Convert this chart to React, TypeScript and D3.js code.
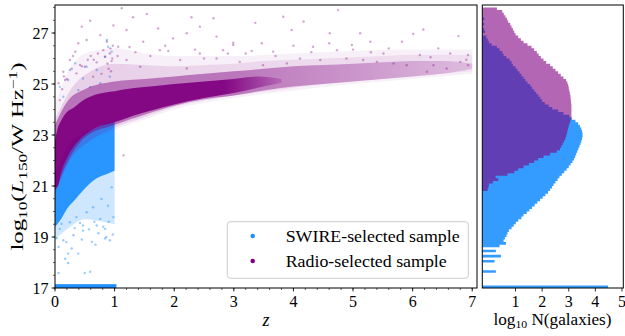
import React from 'react';
import * as d3 from 'd3';

const W = 625;
const H = 336;
const MAIN = { l: 55, r: 477, t: 5, b: 288 };
const HIST = { l: 482.3, r: 623.3, t: 5, b: 288 };

const Z_DOMAIN = [0, 7.08];
const L_DOMAIN = [17, 28.1];
const N_DOMAIN = [-0.25, 5.05];

const X_TICKS = [0, 1, 2, 3, 4, 5, 6, 7];
const Y_TICKS = [17, 19, 21, 23, 25, 27];
const N_TICKS = [1, 2, 3, 4, 5];

// ---- Radio-selected sample: density layers (z, lower L, upper L)
const RADIO_OUTER_Z = [0, 0.2, 0.5, 1.0, 1.5, 2.0, 3.0, 4.0, 5.0, 6.0, 7.0];
const RADIO_OUTER_LO = [20.6, 21.8, 22.6, 23.2, 23.6, 24.0, 24.45, 24.75, 25.0, 25.2, 25.4];
const RADIO_OUTER_HI = [24.2, 25.4, 26.2, 26.4, 26.2, 26.1, 26.1, 26.2, 26.3, 26.35, 26.35];

const RADIO_HALO_Z = [0, 0.3, 0.6, 1.0, 1.5, 2.0, 2.5, 3.0, 3.5, 4.0, 4.5, 5.0, 5.5, 6.0, 6.5, 7.0];
const RADIO_HALO_LO = [20.7, 22.2, 22.8, 23.3, 23.7, 24.1, 24.35, 24.55, 24.7, 24.85, 25.0, 25.1, 25.2, 25.3, 25.4, 25.5];
const RADIO_HALO_HI = [23.6, 24.9, 25.5, 25.8, 25.75, 25.7, 25.75, 25.8, 25.9, 25.95, 26.0, 26.05, 26.1, 26.15, 26.15, 26.15];

const RADIO_MID_Z = [0, 0.2, 0.5, 1.0, 1.5, 2.0, 2.5, 3.0, 3.5, 4.0, 4.5, 5.0, 5.5, 6.0, 6.5, 7.0];
const RADIO_MID_LO = [20.8, 21.9, 22.9, 23.4, 23.8, 24.15, 24.4, 24.55, 24.75, 24.9, 25.0, 25.1, 25.2, 25.3, 25.4, 25.6];
const RADIO_MID_HI = [23.4, 24.3, 24.8, 25.1, 25.2, 25.3, 25.4, 25.5, 25.6, 25.7, 25.75, 25.8, 25.85, 25.9, 25.9, 25.8];

const RADIO_CORE_Z = [0, 0.05, 0.1, 0.2, 0.3, 0.5, 0.7, 1.0, 1.3, 1.6, 2.0, 2.5, 3.0, 3.4, 3.8];
const RADIO_CORE_LO = [20.9, 21.0, 21.5, 22.1, 22.5, 23.0, 23.3, 23.5, 23.75, 23.95, 24.2, 24.45, 24.65, 24.85, 25.05];
const RADIO_CORE_HI = [22.8, 23.3, 23.55, 23.9, 24.05, 24.4, 24.6, 24.72, 24.83, 24.9, 25.0, 25.1, 25.2, 25.3, 25.2];

// sparse radio sources [z, L]
const RADIO_SPARSE_Z = [1.12, 1.54, 1.31, 0.59, 2.29, 2.66, 0.98, 2.43, 1.73, 1.2, 0.45, 0.76, 2.21, 1.98, 2.71, 1.48, 0.39, 1.06, 2.99, 1.76, 2.43, 0.25, 1.2, 2.1, 2.71, 0.14, 1.43, 2.21, 0.06, 0.08, 0.17, 0.34, 0.53, 0.81, 0.87, 0.84, 0.5, 0.36, 0.64, 1.15,
  4.75, 3.83, 3.36, 4.17, 6.18, 6.01, 3.97, 4.61, 5.12, 6.77, 5.29, 5.82, 2.99, 3.47, 4.33, 4.98, 6.43, 5.51, 2.82, 3.66, 4.73, 6.12, 6.63, 6.93, 6.93, 6.8, 6.57, 6.35, 6.24, 5.9, 5.68, 5.4, 5.17, 4.89, 4.45, 4.11, 3.89, 3.49, 3.1,
  0.92, 0.95, 0.9, 0.97, 0.6, 0.7, 0.3, 0.42, 0.2, 0.12, 0.65, 0.78, 1.6, 1.9, 2.5, 3.2, 3.7, 4.3, 5.0, 5.6, 6.3, 6.9, 4.0, 4.6, 5.3,
  0.93, 0.96, 0.88, 0.94, 0.55, 0.45, 0.28, 0.15, 0.72, 1.35, 1.85, 2.35, 2.9, 3.3, 1.05, 1.25];
const RADIO_SPARSE_L = [27.97, 27.75, 27.62, 27.48, 27.62, 27.58, 27.3, 27.25, 27.18, 27.12, 27.25, 26.92, 26.99, 26.79, 26.86, 26.66, 26.6, 26.46, 26.53, 26.33, 26.2, 25.94, 25.94, 25.94, 26.0, 25.48, 25.68, 25.61, 25.03, 24.37, 25.16, 26.27, 26.73, 26.33, 26.66, 26.07, 25.68, 25.42, 25.29, 22.2,
  27.9, 27.64, 27.4, 27.45, 27.14, 26.96, 27.12, 26.99, 26.99, 26.88, 26.66, 26.66, 26.62, 26.6, 26.46, 26.53, 26.4, 26.2, 26.33, 26.27, 26.33, 26.14, 26.2, 26.14, 25.74, 25.87, 25.61, 25.74, 25.48, 25.74, 25.81, 25.87, 25.94, 26.0, 25.94, 26.0, 25.81, 25.74, 25.87,
  26.2, 25.9, 25.6, 26.5, 26.1, 25.85, 26.1, 25.75, 25.2, 24.8, 25.95, 25.4, 26.1, 26.3, 26.0, 26.2, 26.1, 26.25, 26.35, 26.4, 26.05, 25.95, 26.5, 26.6, 26.25,
  26.4, 26.0, 25.8, 25.5, 25.95, 25.7, 25.6, 25.3, 26.2, 26.25, 26.5, 26.35, 26.2, 26.3, 26.1, 26.45];

// ---- SWIRE-selected sample: density layers
const SWIRE_HALO_Z = [0, 0.2, 0.5, 0.8, 1.0];
const SWIRE_HALO_LO = [18.9, 19.3, 19.7, 19.6, 19.5];
const SWIRE_HALO_HI = [19.5, 20.2, 21.0, 21.45, 21.6];

const SWIRE_CORE_Z = [0, 0.1, 0.2, 0.35, 0.5, 0.7, 0.9, 1.0];
const SWIRE_CORE_LO = [19.4, 19.7, 20.1, 20.5, 20.9, 21.3, 21.5, 21.6];
const SWIRE_CORE_HI = [21.5, 22.0, 22.5, 22.9, 23.1, 23.3, 23.5, 23.55];

const SWIRE_FLOOR_Z = [0, 1.03];
const SWIRE_FLOOR_L = [17, 17.15];

const SWIRE_SPARSE_Z = [0.08, 0.14, 0.06, 0.22, 0.17, 0.22, 0.06, 0.5, 0.59, 0.39, 0.47, 0.7, 0.84, 0.92, 0.84, 0.62, 0.31, 0.47, 0.76, 0.98, 0.25, 0.11, 0.64, 0.89, 0.78, 0.95, 0.53, 0.36,
  0.25, 0.34, 0.47, 0.59, 0.7, 0.84, 0.89, 0.95, 0.08, 0.14, 0.39, 0.53, 0.76, 0.92, 0.87, 0.22,
  0.42, 0.57, 0.66, 0.73, 0.81, 0.9, 0.97, 0.45, 0.68, 0.86, 0.33, 0.03, 0.19, 0.28];
const SWIRE_SPARSE_L = [19.32, 18.87, 18.61, 18.35, 18.15, 17.98, 17.59, 17.59, 17.64, 18.35, 19.25, 19.45, 19.32, 18.87, 18.94, 18.81, 19.07, 19.45, 19.71, 19.78, 19.58, 19.52, 20.17, 20.23, 20.49, 20.95, 19.97, 19.78,
  25.55, 25.81, 25.22, 24.89, 25.55, 26.07, 26.46, 26.27, 24.89, 24.5, 24.76, 25.68, 25.03, 25.29, 26.73, 25.16,
  19.55, 19.3, 19.6, 19.15, 19.4, 19.6, 19.1, 18.9, 18.7, 19.0, 19.35, 18.95, 18.8, 18.55];

// ---- Histograms: log10 N per 0.1-dex bin of L, starting at L = 17.0
const HIST_L0 = 17.0;
const HIST_BW = 0.1;
const SWIRE_HIST = [
  4.48, null, null, null, null, null, 0.26, null, null, null,
  0.21, null, 0.45, null, 0.26, null, 0.4, 0.64, 0.55, 0.6,
  0.66, 0.7, 0.75, 0.85, 0.93, 1.01, 1.1, 1.22, 1.3, 1.42,
  1.52, 1.62, 1.72, 1.82, 1.92, 2.02, 2.12, 2.22, 2.3, 2.37,
  2.43, 2.5, 2.58, 2.65, 2.74, 2.83, 2.92, 3.0, 3.07, 3.14,
  3.2, 3.24, 3.28, 3.32, 3.36, 3.4, 3.44, 3.47, 3.5, 3.52,
  3.52, 3.5, 3.47, 3.42, 3.35, 3.25, 3.12, 3.02, 2.8, 2.6,
  2.38, 2.25, 2.1, 2.0, 1.93, 1.86, 1.78, 1.7, 1.62, 1.55,
  1.45, 1.37, 1.3, 1.22, 1.15, 1.07, 1.0, 0.9, 0.85, 0.78,
  0.65, 0.55, 0.5, 0.4, 0.3, 0.1, 0.0, -0.05, -0.1, null,
  -0.15, -0.18, null, -0.18, null, -0.17, null, null, null, null,
];
const RADIO_HIST = [
  null, null, null, null, null, null, null, null, null, null,
  null, null, null, null, null, null, null, null, null, null,
  null, null, null, null, null, null, null, null, null, null,
  null, null, null, null, null, null, null, null, -0.05, -0.02,
  0.0, 0.15, 0.35, 0.25, 0.7, 0.95, 1.1, 1.3, 1.5, 1.7,
  1.85, 2.05, 2.3, 2.55, 2.67, 2.72, 2.77, 2.82, 2.87, 2.9,
  2.93, 2.95, 2.97, 3.0, 3.03, 3.06, 3.08, 3.1, 3.1, 3.1,
  3.1, 3.1, 3.09, 3.08, 3.07, 3.06, 3.04, 3.02, 3.0, 2.98,
  2.95, 2.9, 2.8, 2.7, 2.6, 2.5, 2.4, 2.3, 2.15, 2.05,
  1.95, 1.87, 1.8, 1.7, 1.6, 1.45, 1.3, 1.2, 1.1, 1.0,
  0.95, 0.9, 0.85, 0.8, 0.72, 0.68, 0.62, 0.56, 0.5, 0.3,
];

const LEGEND_LABELS = ['SWIRE-selected sample', 'Radio-selected sample'];

const BLUE = '#1e90ff';
const PURPLE = '#800080';
const FONT = "'Liberation Serif', 'Times New Roman', 'DejaVu Serif', serif";

export default function App() {
  const zS = d3.scaleLinear().domain(Z_DOMAIN).range([MAIN.l, MAIN.r]);
  const lS = d3.scaleLinear().domain(L_DOMAIN).range([MAIN.b, MAIN.t]);
  const nS = d3.scaleLinear().domain(N_DOMAIN).range([HIST.l, HIST.r]);

  const band = (zs: number[], lo: number[], hi: number[]) =>
    d3
      .area<number>()
      .x((d) => zS(d))
      .y0((_, i) => lS(lo[i]))
      .y1((_, i) => lS(hi[i]))
      .curve(d3.curveMonotoneX)(zs) || '';

  const histPath = (vals: (number | null)[]) => {
    const x0 = nS(N_DOMAIN[0]);
    let p = `M${x0},${lS(HIST_L0)}`;
    vals.forEach((v, i) => {
      const x = nS(v == null ? N_DOMAIN[0] : v);
      const ya = lS(HIST_L0 + i * HIST_BW);
      const yb = lS(HIST_L0 + (i + 1) * HIST_BW);
      p += `L${x},${ya}L${x},${yb}`;
    });
    p += `L${x0},${lS(HIST_L0 + vals.length * HIST_BW)}Z`;
    return p;
  };

  const xMinor = d3.range(0, Z_DOMAIN[1] + 1e-9, 0.2);
  const yMinor = d3.range(17, L_DOMAIN[1] + 1e-9, 0.5);
  const txt = { fontFamily: FONT };

  return (
    <svg width={W} height={H} style={{ position: 'absolute', left: 0, top: 0, background: '#fff', fontFamily: FONT }}>
      <defs>
        <clipPath id="clipMain">
          <rect x={MAIN.l} y={MAIN.t} width={MAIN.r - MAIN.l} height={MAIN.b - MAIN.t} />
        </clipPath>
        <clipPath id="clipHist">
          <rect x={HIST.l} y={HIST.t} width={HIST.r - HIST.l} height={HIST.b - HIST.t} />
        </clipPath>
        <linearGradient id="gMid" gradientUnits="userSpaceOnUse" x1={zS(0)} x2={zS(7)} y1={0} y2={0}>
          <stop offset={3 / 7} stopColor={PURPLE} stopOpacity={0.45} />
          <stop offset={5 / 7} stopColor={PURPLE} stopOpacity={0.32} />
          <stop offset={1} stopColor={PURPLE} stopOpacity={0.16} />
        </linearGradient>
        <linearGradient id="gCore" gradientUnits="userSpaceOnUse" x1={zS(0)} x2={zS(3.8)} y1={0} y2={0}>
          <stop offset={0.75} stopColor={PURPLE} stopOpacity={0.93} />
          <stop offset={1} stopColor={PURPLE} stopOpacity={0.2} />
        </linearGradient>
        <linearGradient id="gHalo" gradientUnits="userSpaceOnUse" x1={zS(0)} x2={zS(7)} y1={0} y2={0}>
          <stop offset={0} stopColor={PURPLE} stopOpacity={0.14} />
          <stop offset={0.5} stopColor={PURPLE} stopOpacity={0.1} />
          <stop offset={1} stopColor={PURPLE} stopOpacity={0.07} />
        </linearGradient>
      </defs>
      <rect x={0} y={0} width={W} height={H} fill="#fff" />

      {/* main scatter */}
      <g clipPath="url(#clipMain)">
        <path d={band(SWIRE_HALO_Z, SWIRE_HALO_LO, SWIRE_HALO_HI)} fill={BLUE} fillOpacity={0.22} />
        <path d={band(SWIRE_CORE_Z, SWIRE_CORE_LO, SWIRE_CORE_HI)} fill={BLUE} fillOpacity={0.95} />
        <rect
          x={zS(SWIRE_FLOOR_Z[0])}
          y={lS(SWIRE_FLOOR_L[1])}
          width={zS(SWIRE_FLOOR_Z[1]) - zS(SWIRE_FLOOR_Z[0])}
          height={lS(SWIRE_FLOOR_L[0]) - lS(SWIRE_FLOOR_L[1])}
          fill={BLUE}
        />
        {SWIRE_SPARSE_Z.map((z, i) => (
          <circle key={'s' + i} cx={zS(z)} cy={lS(SWIRE_SPARSE_L[i])} r={1.2} fill={BLUE} fillOpacity={0.45} />
        ))}
        <path d={band(RADIO_OUTER_Z, RADIO_OUTER_LO, RADIO_OUTER_HI)} fill={PURPLE} fillOpacity={0.06} />
        <path d={band(RADIO_HALO_Z, RADIO_HALO_LO, RADIO_HALO_HI)} fill="url(#gHalo)" />
        <path d={band(RADIO_MID_Z, RADIO_MID_LO, RADIO_MID_HI)} fill="url(#gMid)" />
        <path d={band(RADIO_CORE_Z, RADIO_CORE_LO, RADIO_CORE_HI)} fill="url(#gCore)" />
        {RADIO_SPARSE_Z.map((z, i) => (
          <circle key={'r' + i} cx={zS(z)} cy={lS(RADIO_SPARSE_L[i])} r={1.2} fill={PURPLE} fillOpacity={0.35} />
        ))}
      </g>

      {/* main axes frame */}
      <rect x={MAIN.l} y={MAIN.t} width={MAIN.r - MAIN.l} height={MAIN.b - MAIN.t} fill="none" stroke="#000" strokeWidth={1} />
      {xMinor.map((v, i) => (
        <line key={'xm' + i} x1={zS(v)} x2={zS(v)} y1={MAIN.b} y2={MAIN.b + 2} stroke="#000" strokeWidth={0.6} />
      ))}
      {X_TICKS.map((v) => (
        <g key={'xt' + v}>
          <line x1={zS(v)} x2={zS(v)} y1={MAIN.b} y2={MAIN.b + 3.5} stroke="#000" strokeWidth={0.8} />
          <text x={zS(v)} y={306.5} textAnchor="middle" fontSize={16} style={txt}>
            {v}
          </text>
        </g>
      ))}
      {yMinor.map((v, i) => (
        <line key={'ym' + i} x1={MAIN.l - 2} x2={MAIN.l} y1={lS(v)} y2={lS(v)} stroke="#000" strokeWidth={0.6} />
      ))}
      {Y_TICKS.map((v) => (
        <g key={'yt' + v}>
          <line x1={MAIN.l - 3.5} x2={MAIN.l} y1={lS(v)} y2={lS(v)} stroke="#000" strokeWidth={0.8} />
          <text x={48.5} y={lS(v) + 5.5} textAnchor="end" fontSize={16} style={txt}>
            {v}
          </text>
        </g>
      ))}
      <text x={(MAIN.l + MAIN.r) / 2} y={326} textAnchor="middle" fontSize={18} fontStyle="italic" style={txt}>
        z
      </text>
      <text
        transform={`translate(23,${(MAIN.t + MAIN.b) / 2 + 10}) rotate(-90)`}
        textAnchor="middle"
        fontSize={16.5}
        style={txt}
        textLength={188}
        lengthAdjust="spacingAndGlyphs"
      >
        log
        <tspan dy={3.5} fontSize={11.5}>10</tspan>
        <tspan dy={-3.5}>(</tspan>
        <tspan fontStyle="italic">L</tspan>
        <tspan dy={3.5} fontSize={11.5}>150</tspan>
        <tspan dy={-3.5}>/W Hz</tspan>
        <tspan dy={-6.5} fontSize={11.5}>−1</tspan>
        <tspan dy={6.5}>)</tspan>
      </text>

      {/* legend */}
      <rect x={227.3} y={221.7} width={241} height={56.6} rx={3} fill="#fff" fillOpacity={0.8} stroke="#cccccc" strokeWidth={1} />
      {LEGEND_LABELS.map((t, i) => (
        <g key={t}>
          <circle cx={252.7} cy={236 + i * 25} r={2.3} fill={i === 0 ? BLUE : PURPLE} />
          <text x={285.7} y={241.7 + i * 25} fontSize={17} style={txt} textLength={i === 0 ? 174 : 161} lengthAdjust="spacingAndGlyphs">
            {t}
          </text>
        </g>
      ))}

      {/* histogram panel */}
      <g clipPath="url(#clipHist)">
        <path d={histPath(SWIRE_HIST)} fill={BLUE} fillOpacity={0.9} />
        <path d={histPath(RADIO_HIST)} fill={PURPLE} fillOpacity={0.6} />
      </g>
      <rect x={HIST.l} y={HIST.t} width={HIST.r - HIST.l} height={HIST.b - HIST.t} fill="none" stroke="#000" strokeWidth={1} />
      {N_TICKS.map((v) => (
        <g key={'nt' + v}>
          <line x1={nS(v)} x2={nS(v)} y1={HIST.b} y2={HIST.b + 3.5} stroke="#000" strokeWidth={0.8} />
          <text x={nS(v)} y={306.5} textAnchor="middle" fontSize={16} style={txt}>
            {v}
          </text>
        </g>
      ))}
      <text x={552.5} y={325} textAnchor="middle" fontSize={16} style={txt} textLength={118} lengthAdjust="spacingAndGlyphs">
        log
        <tspan dy={3} fontSize={11}>10</tspan>
        <tspan dy={-3}> N(galaxies)</tspan>
      </text>
    </svg>
  );
}
